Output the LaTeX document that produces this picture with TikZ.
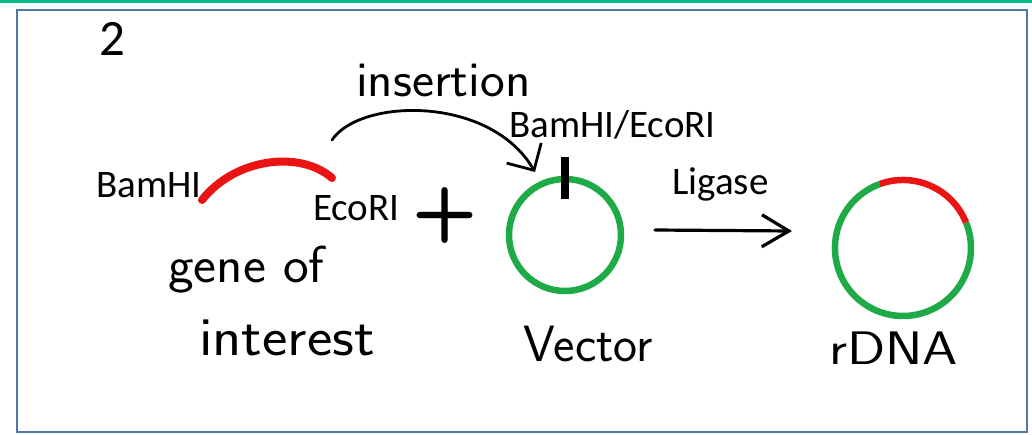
\documentclass[tikz,border=0pt]{standalone}
\usepackage{fontspec}
\setmainfont{Carlito}
\usetikzlibrary{arrows.meta}
\definecolor{teal1}{RGB}{0,190,140}
\definecolor{frame1}{RGB}{80,120,165}
\definecolor{dnagreen}{RGB}{30,170,70}
\definecolor{dnared}{RGB}{235,20,20}
\tikzset{
  lab/.style={font=\fontsize{39}{42}\selectfont, inner sep=0pt},
  hand/.style={font=\sffamily\fontsize{48}{52}\selectfont, inner sep=0pt},
  pen/.style={line width=2.8pt, line cap=round, line join=round},
}
\begin{document}
\begin{tikzpicture}[x=1pt,y=-1pt]
\useasboundingbox (0,0) rectangle (1032,434);
\fill[teal1] (0,0) rectangle (1032,3);
\draw[frame1, line width=2pt] (17,10) rectangle (1027,432);
% number
\node[lab, font=\fontsize{51}{54}\selectfont, anchor=west] (num) at (99,39) {2};
% gene of interest
\coordinate (gA) at (202,200);
\coordinate (gB) at (332,178);
\draw[dnared, line width=8pt, line cap=round] (gA) .. controls (235,158) and (300,150) .. (gB);
\node[lab, anchor=east] (bam) at (202,185) {BamHI};
\node[lab, anchor=west] (eco) at (313,208) {EcoRI};
\node[hand, font=\sffamily\fontsize{52}{56}\selectfont, xscale=1.05, anchor=west] (gene) at (168,270) {gene of};
\node[hand, font=\sffamily\fontsize{55}{58}\selectfont, xscale=1.1, anchor=west] (inter) at (199,338) {interest};
\node[hand, font=\sffamily\bfseries\fontsize{76}{80}\selectfont] (plus) at (445,215) {+};
% vector
\node[circle, draw=dnagreen, line width=6.5pt, minimum size=112pt, inner sep=0pt] (vec) at (565,235) {};
\coordinate (t1) at (565,157);
\coordinate (t2) at (565,199);
\draw[line width=8pt] (t1) -- (t2);
\node[lab, anchor=west] (be) at (509,125) {BamHI/EcoRI};
\node[hand, font=\sffamily\fontsize{51}{54}\selectfont, anchor=west] (vlab) at (523,344) {Vector};
% insertion arrow
\coordinate (iS) at (332,140);
\coordinate (iE) at (535,172);
\draw[pen, -{Straight Barb[length=20pt,width=40pt,line width=2.8pt]}] (iS) .. controls (360,98) and (490,95) .. (iE);
\node[hand, font=\sffamily\fontsize{50}{54}\selectfont, xscale=1.05, anchor=west] (ins) at (356,80) {insertion};
% ligase arrow
\coordinate (lS) at (655,230);
\coordinate (lE) at (792,231);
\draw[pen, line width=3.2pt, -{Straight Barb[length=27pt,width=32pt,line width=3.2pt]}] (lS) -- (lE);
\node[lab, anchor=west] (lig) at (672,184) {Ligase};
% rDNA
\coordinate (rc) at (903,248);
\coordinate (r22) at (966,222.5);
\draw[dnagreen, line width=6.5pt] (r22) arc[start angle=22, end angle=-250, radius=68pt];
\draw[dnared, line width=6.5pt] (r22) arc[start angle=22, end angle=110, radius=68pt];
\node[hand, font=\sffamily\fontsize{47}{50}\selectfont, xscale=1.2, anchor=west] (rlab) at (829,348) {rDNA};
\end{tikzpicture}
\end{document}
